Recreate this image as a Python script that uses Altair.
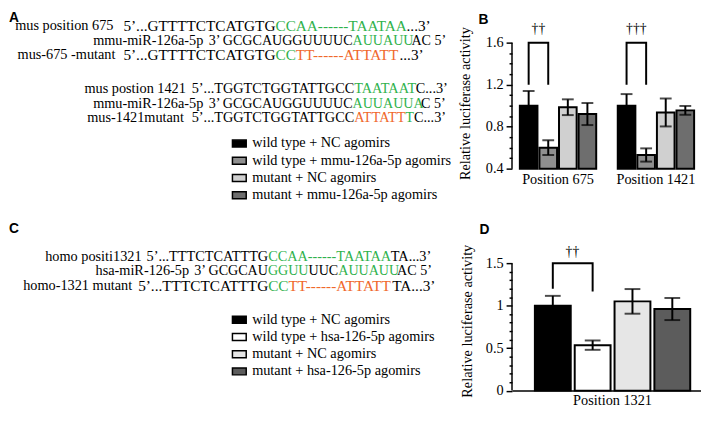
import altair as alt
import pandas as pd

SERIF = "Liberation Serif"
SANS = "Liberation Sans"
FS = 14.5
GREEN = "#2fb24c"
ORANGE = "#f0682b"
INK = "#000000"
PALETTE = {"k": INK, "g": GREEN, "o": ORANGE}

# advance widths (em) and kerning pairs of the Times-metric serif,
# used only to butt the coloured runs of a sequence together
ADV = {"3": 0.5, "5": 0.5, "’": 0.333, ".": 0.25, " ": 0.25, "-": 0.333,
       "A": 0.722, "C": 0.667, "G": 0.722, "T": 0.611, "U": 0.722}
KERN = {"AT": -0.111, "TA": -0.093, "AU": -0.055, "UA": -0.040, "AC": -0.040, "AG": -0.040}

# ---------------- Panel A: mouse sequences ----------------
a_labels = ["mus position 675", "mmu-miR-126a-5p", "mus-675 -mutant",
            "mus postion 1421", "mmu-miR-126a-5p", "mus-1421mutant"]
a_prefix = ["5’...GTTTTCTCATGTG", "3’ GCGCAUGGUUUUC", "5’...GTTTTCTCATGTG",
            "5’...TGGTCTGGTATTGCC", "3’ GCGCAUGGUUUUC", "5’...TGGTCTGGTATTGCC"]
a_runs = [
    ["CCAA------TAATAA", "...3’"],
    ["AUUAUU", "AC 5’"],
    ["CC", "TT------ATTATT", "...3’"],
    ["TAATAAT", "C...3’"],
    ["AUUAUUA", "C 5’"],
    ["ATTATT", "T", "C...3’"],
]
a_run_codes = [["g", "k"], ["g", "k"], ["g", "o", "k"], ["g", "k"], ["g", "k"], ["o", "g", "k"]]
a_split = [271.7, 350, 271.7, 351.7, 350, 351.7]
a_gap = [10, 5, 8, 6, 5, 8]
a_size = [15.5, 14.3, 15.5, 14.5, 14.3, 14.5]
a_y = [13, 28, 43, 77, 92, 107]

# ---------------- Panel C: human sequences ----------------
c_labels = ["homo positi1321", "hsa-miR-126-5p", "homo-1321 mutant"]
c_prefix = ["5’...TTTCTCATTTG", "3’ GCGCAU", "5’...TTTCTCATTTG"]
c_runs = [
    ["CCAA------TAATAA", "TA...3’"],
    ["GGUU", "UUC", "AUUAUU", "AC 5’"],
    ["CC", "TT------ATTATT", "TA...3’"],
]
c_run_codes = [["g", "k"], ["g", "k", "g", "k"], ["g", "o", "k"]]
c_split = [264.3, 264, 264.3]
c_gap = [5, 5, 6]
c_size = [14.5, 14.3, 15.5]
c_y = [36, 50.5, 65]

# ---------------- Panel B: luciferase, mouse ----------------
b_positions = ["Position 675", "Position 1421"]
b_groups = ["wild type + NC agomirs", "wild type + mmu-126a-5p agomirs",
            "mutant + NC agomirs", "mutant + mmu-126a-5p agomirs"]
b_means = [[1.00, 0.60, 0.985, 0.92], [1.00, 0.53, 0.935, 0.955]]
b_errs = [[0.14, 0.07, 0.075, 0.105], [0.11, 0.063, 0.133, 0.042]]
b_marks = ["††", "†††"]
b_bracket = [1.2, 1.2, 1.6]
b_mark_y = 1.727
b_fills = ["#000000", "#8f8f8f", "#d0d0d0", "#6e6e6e"]
b_ticks = [0.4, 0.5, 0.6, 0.7, 0.8, 0.9, 1.0, 1.1, 1.2, 1.3, 1.4, 1.5, 1.6]

# ---------------- Panel D: luciferase, human ----------------
d_positions = ["Position 1321"]
d_groups = ["wild type + NC agomirs", "wild type + hsa-126-5p agomirs",
            "mutant + NC agomirs", "mutant + hsa-126-5p agomirs"]
d_means = [[1.00, 0.535, 1.05, 0.96]]
d_errs = [[0.115, 0.055, 0.145, 0.13]]
d_marks = ["††"]
d_bracket = [1.2, 1.165, 1.5]
d_mark_y = 1.63
d_fills = ["#000000", "#ffffff", "#e6e6e6", "#5c5c5c"]
d_ticks = [0.0, 0.1, 0.2, 0.3, 0.4, 0.5, 0.6, 0.7, 0.8, 0.9, 1.0,
           1.1, 1.2, 1.3, 1.4, 1.5]


def width_of(s, size):
    w = sum(ADV.get(ch, 0.6) for ch in s)
    w += sum(KERN.get(s[i:i + 2], 0.0) for i in range(len(s) - 1))
    return w * size


def text_panel(labels, prefixes, runs, run_codes, splits, gaps, sizes, ys,
               letter, letter_xy, width, height):
    rows = []
    for lab, pre, rr, cc, sx, gp, sz, y in zip(labels, prefixes, runs, run_codes,
                                               splits, gaps, sizes, ys):
        pre_w = width_of(pre, sz)
        rows.append({"t": lab, "c": INK, "x": sx - pre_w - gp, "y": y, "s": FS, "a": "right"})
        rows.append({"t": pre, "c": INK, "x": sx, "y": y, "s": sz, "a": "right"})
        x = sx
        for t, c in zip(rr, cc):
            rows.append({"t": t, "c": PALETTE[c], "x": x, "y": y, "s": sz, "a": "left"})
            x += width_of(t, sz)
    df = pd.DataFrame(rows)
    base = alt.Chart(df).encode(
        x=alt.X("x:Q", scale=None),
        y=alt.Y("y:Q", scale=None),
        text="t:N",
        color=alt.Color("c:N", scale=None),
        size=alt.Size("s:Q", scale=None),
    )
    left = base.transform_filter("datum.a == 'left'").mark_text(
        align="left", baseline="middle", font=SERIF)
    right = base.transform_filter("datum.a == 'right'").mark_text(
        align="right", baseline="middle", font=SERIF)
    lt = alt.Chart(pd.DataFrame({"t": [letter], "x": [letter_xy[0]], "y": [letter_xy[1]]})).mark_text(
        align="left", baseline="middle", font=SANS, fontWeight="bold", fontSize=14
    ).encode(x=alt.X("x:Q", scale=None), y=alt.Y("y:Q", scale=None), text="t:N",
             color=alt.value(INK))
    return alt.layer(left, right, lt).properties(width=width, height=height)


def bar_panel(positions, groups, means, errs, fills, marks, bracket, mark_y, mark_dx,
              ticks, major_test, fmt, y_lo, y_top, axis_hi, width, height,
              xpad, cap, title_xy, letter, letter_xy, legend_xy, show_xdomain,
              xlabel_pad):
    rows, caps, br, dg = [], [], [], []
    for p, mm, ee in zip(positions, means, errs):
        for g, m, e in zip(groups, mm, ee):
            rows.append({"pos": p, "cond": g, "mean": m, "lo": m - e, "hi": m + e, "base": y_lo})
            caps.append({"pos": p, "cond": g, "v": m - e})
            caps.append({"pos": p, "cond": g, "v": m + e})
    for p, mk in zip(positions, marks):
        br += [
            {"pos": p, "cond": groups[0], "v": bracket[0], "o": 0},
            {"pos": p, "cond": groups[0], "v": bracket[2], "o": 1},
            {"pos": p, "cond": groups[1], "v": bracket[2], "o": 2},
            {"pos": p, "cond": groups[1], "v": bracket[1], "o": 3},
        ]
        dg.append({"pos": p, "cond": groups[0], "t": mk, "v": mark_y})
    df = pd.DataFrame(rows)
    df_caps = pd.DataFrame(caps)
    df_br = pd.DataFrame(br)
    df_dg = pd.DataFrame(dg)
    df_ax = pd.DataFrame({"lo": [y_lo], "hi": [axis_hi]})

    xs = alt.Scale(domain=positions, paddingInner=xpad[0], paddingOuter=xpad[1], align=xpad[2])
    xos = alt.Scale(domain=groups, paddingInner=0.1, paddingOuter=0)
    ys = alt.Scale(domain=[y_lo, y_top], nice=False, zero=False)

    xaxis = alt.Axis(title=None, domain=show_xdomain, domainColor=INK, domainWidth=1.5,
                     ticks=False, tickSize=0, labelFont=SERIF, labelFontSize=FS,
                     labelColor=INK, labelPadding=xlabel_pad, labelAngle=0)
    yaxis = alt.Axis(
        values=ticks, format=fmt,
        labelExpr=f"({major_test}) ? datum.label : ''",
        tickSize={"condition": {"test": major_test, "value": 6}, "value": 3},
        domain=False, grid=False, tickColor=INK, tickWidth=1.5,
        labelFont=SERIF, labelFontSize=FS, labelColor=INK, labelPadding=3,
        title="Relative luciferase activity", titleFont=SERIF, titleFontSize=FS,
        titleFontWeight="normal", titleColor=INK, titleX=title_xy[0], titleY=title_xy[1],
        titleAngle=-90, titleAlign="center", titleBaseline="middle",
    )
    legend = alt.Legend(
        orient="none", legendX=legend_xy[0], legendY=legend_xy[1], title=None,
        symbolType="M-1,-0.5H1V0.5H-1Z", symbolSize=196, symbolStrokeColor=INK,
        symbolStrokeWidth=1.5, labelFont=SERIF, labelFontSize=FS, labelColor=INK,
        labelOffset=5, rowPadding=2.5, padding=0, labelLimit=400,
    )

    X = alt.X("pos:N", scale=xs, axis=xaxis)
    XO = alt.XOffset("cond:N", scale=xos)

    def Y(field):
        return alt.Y(field, scale=ys, axis=yaxis)

    bars = alt.Chart(df).mark_bar(stroke=INK, strokeWidth=2).encode(
        x=X, xOffset=XO,
        y=Y("mean:Q"),
        y2="base:Q",
        fill=alt.Fill("cond:N", scale=alt.Scale(domain=groups, range=fills), legend=legend),
    )
    err = alt.Chart(df).mark_rule(strokeWidth=2).encode(
        x=X, xOffset=XO, y=Y("lo:Q"), y2="hi:Q", color=alt.value(INK),
    )
    capm = alt.Chart(df_caps).mark_tick(thickness=2, size=cap, orient="horizontal").encode(
        x=X, xOffset=XO, y=Y("v:Q"), color=alt.value(INK),
    )
    brk = alt.Chart(df_br).mark_line(strokeWidth=2).encode(
        x=X, xOffset=XO, y=Y("v:Q"), detail="pos:N", order="o:Q", color=alt.value(INK),
    )
    dag = alt.Chart(df_dg).mark_text(font=SERIF, fontSize=14, baseline="middle",
                                     dx=mark_dx).encode(
        x=X, xOffset=XO, y=Y("v:Q"), text="t:N", color=alt.value(INK),
    )
    axl = alt.Chart(df_ax).mark_rule(strokeWidth=1.5).encode(
        x=alt.value(0), y=Y("lo:Q"), y2="hi:Q", color=alt.value(INK),
    )
    lt = alt.Chart(pd.DataFrame({"t": [letter]})).mark_text(
        align="left", baseline="middle", font=SANS, fontWeight="bold", fontSize=14
    ).encode(x=alt.value(letter_xy[0]), y=alt.value(letter_xy[1]), text="t:N",
             color=alt.value(INK))

    return alt.layer(bars, err, capm, brk, dag, axl, lt).properties(width=width, height=height)


panel_a = text_panel(a_labels, a_prefix, a_runs, a_run_codes, a_split, a_gap, a_size, a_y,
                     "A", (1, 5), 512, 212)
panel_c = text_panel(c_labels, c_prefix, c_runs, c_run_codes, c_split, c_gap, c_size, c_y,
                     "C", (1, 7), 512, 180)

panel_b = bar_panel(
    b_positions, b_groups, b_means, b_errs, b_fills, b_marks, b_bracket, b_mark_y, 10,
    b_ticks, "round(datum.value * 10) % 4 == 0", ".1f", 0.4, 1.88125, 1.6,
    186, 158, (0.22, 0.045, 0.89), 12, (-47, 91.5), "B", (-34, 7), (-285, 124.5),
    False, 4,
)
panel_d = bar_panel(
    d_positions, d_groups, d_means, d_errs, d_fills, d_marks, d_bracket, d_mark_y, 20,
    d_ticks, "round(datum.value * 10) % 5 == 0", "~g", 0.0, 1.9865, 1.5,
    192, 171.5, (0.0, 0.1083, 0.68), 16, (-45, 100.5), "D", (-33, 8), (-285, 91.5),
    True, 3,
)

chart = alt.concat(
    panel_a, panel_b, panel_c, panel_d, columns=2, spacing=0, bounds="flush"
).resolve_scale(
    x="independent", y="independent", fill="independent", color="independent",
    xOffset="independent", size="independent",
).properties(padding=0).configure_view(stroke=None)

chart.save("out.html", embed_options={"renderer": "svg", "actions": False})
